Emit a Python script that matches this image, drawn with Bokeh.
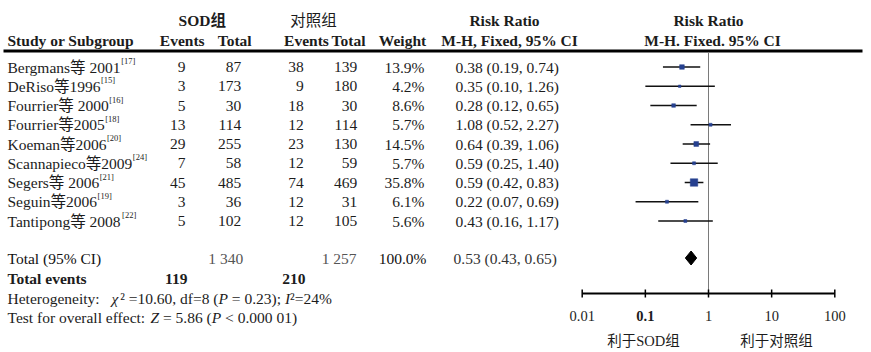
import math
from bokeh.plotting import figure
from bokeh.models import Range1d, LogScale
from bokeh.core.properties import value
from bokeh.embed import file_html
from bokeh.resources import INLINE

# ---------------- data ----------------
studies = ["Bergmans等 2001", "DeRiso等1996", "Fourrier等 2000", "Fourrier等2005",
           "Koeman等2006", "Scannapieco等2009", "Segers等 2006", "Seguin等2006",
           "Tantipong等 2008"]
refs = ["[17]", "[15]", "[16]", "[18]", "[20]", "[24]", "[21]", "[19]", "[22]"]
sod_events = [9, 3, 5, 13, 29, 7, 45, 3, 5]
sod_total = [87, 173, 30, 114, 255, 58, 485, 36, 102]
ctl_events = [38, 9, 18, 12, 23, 12, 74, 12, 12]
ctl_total = [139, 180, 30, 114, 130, 59, 469, 31, 105]
weights = [13.9, 4.2, 8.6, 5.7, 14.5, 5.7, 35.8, 6.1, 5.6]
rr = [0.38, 0.35, 0.28, 1.08, 0.64, 0.59, 0.59, 0.22, 0.43]
rr_lo = [0.19, 0.10, 0.12, 0.52, 0.39, 0.25, 0.42, 0.07, 0.16]
rr_hi = [0.74, 1.26, 0.65, 2.27, 1.06, 1.40, 0.83, 0.69, 1.17]

total_sod_n = "1 340"
total_ctl_n = "1 257"
total_weight = "100.0%"
total_sod_events = 119
total_ctl_events = 210
total_rr, total_lo, total_hi = 0.53, 0.43, 0.65
# (text, italic) pieces
heterogeneity = [("Heterogeneity:", False), ("χ", True), ("² =10.60, df=8 (", False),
                 ("P", True), (" = 0.23); ", False), ("I", True), ("²=24%", False)]
overall = [("Test for overall effect: ", False), ("Z", True), (" = 5.86 (", False),
           ("P", True), (" < 0.000 01)", False)]

ticks = [0.01, 0.1, 1, 10, 100]
tick_labels = ["0.01", "0.1", "1", "10", "100"]
favours = ["利于SOD组", "利于对照组"]

# ---------------- layout (pixels) ----------------
W, H = 871, 352
AX_L_PX, AX_R_PX = 581.7, 834.3          # pixel positions of 0.01 and 100
dec = (AX_R_PX - AX_L_PX) / 4.0
lg_lo = -2 - AX_L_PX / dec
lg_hi = lg_lo + W / dec

ROW0, ROWSTEP = 66.5, 19.25
row_y = [ROW0 + ROWSTEP * i for i in range(len(studies))]
HDR1_Y, HDR2_Y, LINE_Y = 20, 40, 50.5
TOT_Y, EV_Y, HET_Y, TEST_Y = 257.5, 278, 297.5, 317
AXIS_Y, TICKLAB_Y, FAV_Y = 293, 315, 340
FAV_X = [643, 776]
FSZ = 15.5
FS = f"{FSZ}px"

# approximate Times / Liberation Serif advance widths (em)
WID = {"B": .667, "e": .444, "r": .333, "g": .5, "m": .778, "a": .444, "n": .5,
       "s": .389, "D": .722, "R": .667, "i": .278, "o": .5, "F": .556, "u": .5,
       "K": .722, "S": .556, "c": .444, "p": .5, "t": .278, "T": .611, " ": .25,
       "H": .722, "y": .5, ":": .278, "=": .564, ".": .25, ",": .25, "d": .5,
       "f": .333, "(": .333, ")": .333, ";": .278, "%": .833, "v": .5, "l": .278,
       "<": .564, "²": .3, "χ": .5, "P": .556, "I": .333, "Z": .611}
WID_IT = {"P": .611, "I": .333, "Z": .556, "χ": .55}


def measure(s, italic=False):
    tot = 0.0
    for ch in s:
        if ord(ch) > 0x2E80:
            tot += 1.0
        elif italic and ch in WID_IT:
            tot += WID_IT[ch]
        else:
            tot += WID.get(ch, 0.5)
    return tot * FSZ


FONT = value("'Liberation Serif', 'Noto Sans CJK SC'")
TXT = "#1c1c1c"

p = figure(width=W, height=H, x_range=Range1d(0, W), y_range=Range1d(H, 0),
           x_axis_type=None, y_axis_type=None, toolbar_location=None,
           output_backend="svg", min_border=0,
           extra_x_ranges={"rr": Range1d(10 ** lg_lo, 10 ** lg_hi)},
           extra_x_scales={"rr": LogScale()})
p.outline_line_color = None
p.grid.visible = False
p.background_fill_color = "white"
p.border_fill_color = "white"


def txt(x, y, t, align="left", style="normal", size=FS, color=TXT, **kw):
    p.text(x=x, y=y, text=t, text_align=align, text_baseline="middle",
           text_font=FONT, text_font_size=size, text_font_style=style,
           text_color=color, **kw)


def pieces(x0, y, parts, gap_after_first=0.0):
    xs, ts, st = [], [], []
    x = x0
    for k, (s, it) in enumerate(parts):
        lead = len(s) - len(s.lstrip(" "))
        x += lead * WID[" "] * FSZ
        core = s.strip(" ")
        xs.append(x)
        ts.append(core)
        st.append("italic" if it else "normal")
        x += measure(s[lead:], it)
        if k == 0:
            x += gap_after_first
    txt(xs, [y] * len(xs), ts, style=st)


# headers
txt([201.7], [HDR1_Y], ["SOD组"], align="center", style="bold")
txt([313], [HDR1_Y], ["对照组"], align="center")
txt([504, 708], [HDR1_Y] * 2, ["Risk Ratio", "Risk Ratio"], align="center", style="bold")
txt([7], [HDR2_Y], ["Study or Subgroup"], style="bold")
txt([181.7, 234.2, 306, 348, 402], [HDR2_Y] * 5,
    ["Events", "Total", "Events", "Total", "Weight"], align="center", style="bold")
txt([509, 712], [HDR2_Y] * 2, ["M-H, Fixed, 95% CI", "M-H. Fixed. 95% CI"],
    align="center", style="bold")
p.segment(x0=[3], x1=[862], y0=[LINE_Y], y1=[LINE_Y], line_color="black", line_width=3)

# study rows
txt([7] * len(studies), row_y, studies)
sup_x = [7 + measure(s) + 0.5 for s in studies]
txt(sup_x, [y - 6 for y in row_y], refs, size="8.5px")
txt([185] * 9, row_y, [str(v) for v in sod_events], align="right")
txt([240.7] * 9, row_y, [str(v) for v in sod_total], align="right")
txt([303.3] * 9, row_y, [str(v) for v in ctl_events], align="right")
txt([356.7] * 9, row_y, [str(v) for v in ctl_total], align="right")
txt([424] * 9, row_y, [f"{w:.1f}%" for w in weights], align="right")
txt([455] * 9, row_y, [f"{r:.2f} ({l:.2f}, {h:.2f})" for r, l, h in zip(rr, rr_lo, rr_hi)])

# totals
txt([7], [TOT_Y], ["Total (95% CI)"], color="#111111")
txt([242.7, 356], [TOT_Y] * 2, [total_sod_n, total_ctl_n], align="right", color="#555555")
txt([426], [TOT_Y], [total_weight], align="right", color="#111111")
txt([453], [TOT_Y], [f"{total_rr:.2f} ({total_lo:.2f}, {total_hi:.2f})"], color="#333333")
txt([7], [EV_Y], ["Total events"], style="bold")
txt([187, 305], [EV_Y] * 2, [str(total_sod_events), str(total_ctl_events)],
    align="right", style="bold")
pieces(7, HET_Y, heterogeneity, gap_after_first=12.0)
pieces(7, TEST_Y, overall)

# forest plot (log scale)
p.segment(x0=[1], x1=[1], y0=[LINE_Y + 1.5], y1=[AXIS_Y], x_range_name="rr",
          line_color="#7a7a7a", line_width=1)
p.segment(x0=rr_lo, x1=rr_hi, y0=row_y, y1=row_y, x_range_name="rr",
          line_color="#111111", line_width=1.6)
p.scatter(x=rr, y=row_y, size=[1.25 * math.sqrt(w) for w in weights], marker="square",
          x_range_name="rr", fill_color="#26408f", line_color="#26408f", line_width=0.5)
p.patch(x=[total_lo, total_rr, total_hi, total_rr], y=[TOT_Y, TOT_Y - 7, TOT_Y, TOT_Y + 7],
        x_range_name="rr", fill_color="black", line_color="black")

# axis
p.segment(x0=[ticks[0]], x1=[ticks[-1]], y0=[AXIS_Y], y1=[AXIS_Y], x_range_name="rr",
          line_color="black", line_width=2)
p.segment(x0=ticks, x1=ticks, y0=[AXIS_Y - 4] * 5, y1=[AXIS_Y + 4] * 5, x_range_name="rr",
          line_color="black", line_width=1.5)
p.text(x=ticks, y=[TICKLAB_Y] * 5, text=tick_labels, x_range_name="rr",
       text_align="center", text_baseline="middle", text_font=FONT,
       text_font_size="14.5px", text_color=TXT,
       text_font_style=["normal", "bold", "normal", "normal", "normal"])
txt(FAV_X, [FAV_Y] * 2, favours, align="center", size="14.5px")

open("out.html", "w").write(file_html(p, INLINE))
